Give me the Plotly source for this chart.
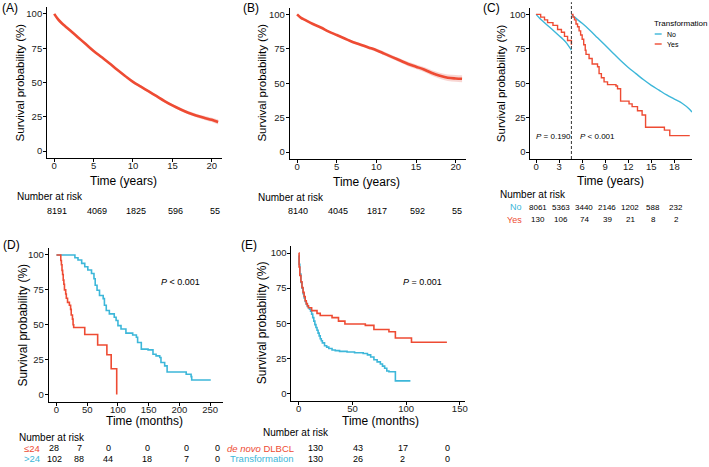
import plotly.graph_objects as go

# ---------------- DATA ----------------
# Panel A: overall survival (years, %)
A_time = [0, 0.5, 1, 1.5, 2, 3, 4, 5, 6, 7, 8, 9, 10, 11, 12, 13, 14, 15, 16, 17, 18, 19, 20, 20.8]
A_surv = [100, 96, 93, 90.5, 88, 83, 78, 73, 68.5, 64, 59.3, 54.8, 50.5, 47, 43.5, 40, 36.5, 33.3, 30.5, 28, 26, 24.3, 22.8, 21.2]
A_lo = [100, 95.5, 92.4, 89.9, 87.4, 82.3, 77.3, 72.3, 67.8, 63.2, 58.5, 54, 49.7, 46.1, 42.6, 39.1, 35.5, 32.3, 29.4, 26.8, 24.7, 22.9, 21.2, 19.4]
A_hi = [100, 96.5, 93.6, 91.1, 88.6, 83.7, 78.7, 73.7, 69.2, 64.8, 60.1, 55.6, 51.3, 47.9, 44.4, 40.9, 37.5, 34.3, 31.6, 29.2, 27.3, 25.7, 24.4, 23]
A_risk_t = [0, 5, 10, 15, 20]
A_risk_n = ["8191", "4069", "1825", "596", "55"]

# Panel B
B_time = [0, 0.5, 1, 2, 3, 4, 5, 6, 7, 8, 9, 10, 11, 12, 13, 14, 15, 16, 17, 18, 19, 20, 20.8]
B_surv = [100, 97.5, 96, 93, 90.5, 87.5, 85, 82.5, 80, 78, 76, 74, 71.5, 69, 66.5, 64, 62, 60, 57.5, 55.5, 54, 53.5, 53.3]
B_lo = [100, 97.2, 95.6, 92.5, 89.9, 86.9, 84.3, 81.7, 79.1, 77, 74.9, 72.8, 70.2, 67.6, 65, 62.4, 60.3, 58.2, 55.5, 53.3, 51.6, 51, 50.8]
B_hi = [100, 97.8, 96.4, 93.5, 91.1, 88.1, 85.7, 83.3, 80.9, 79, 77.1, 75.2, 72.8, 70.4, 68, 65.6, 63.7, 61.8, 59.5, 57.7, 56.4, 56, 55.8]
B_risk_t = [0, 5, 10, 15, 20]
B_risk_n = ["8140", "4045", "1817", "592", "55"]

# Panel C: landmark analysis at 4.6 years
C_landmark = 4.6
C_no_pre_t = [0, 0.5, 1, 1.5, 2, 2.5, 3, 3.5, 4, 4.6]
C_no_pre_s = [100, 97, 94.5, 92, 89.5, 87, 84.5, 82, 79, 74]
C_yes_pre_t = [0, 0.6, 1.1, 1.5, 2.2, 2.8, 3.3, 3.7, 4.1, 4.6]
C_yes_pre_s = [100, 98, 96, 94, 92, 89, 87, 84, 81, 78]
C_no_post_t = [4.6, 5, 6, 7, 8, 9, 10, 11, 12, 13, 14, 15, 16, 17, 18, 19, 20, 20.3]
C_no_post_s = [100, 98, 93.5, 88.5, 83, 77.5, 72, 66.5, 61.5, 57, 52.5, 48.5, 45, 41.5, 38.5, 35.5, 31, 29]
C_yes_post_t = [4.6, 4.8, 5.0, 5.2, 5.4, 5.6, 5.8, 6.0, 6.2, 6.4, 6.5, 6.9, 7.3, 8.0, 8.2, 8.5, 8.85, 9.3, 10.4, 10.6, 11.0, 12.1, 12.5, 13.2, 13.8, 14.25, 16.7, 17.4, 20.0]
C_yes_post_s = [100, 98, 96, 93, 91, 88, 85, 82, 78, 74, 71, 68, 64, 62, 57, 54, 51, 49, 48, 46, 37, 35, 33, 30, 27, 18, 16, 12, 12]
C_risk_t = [0, 3, 6, 9, 12, 15, 18]
C_risk_no = ["8061", "5363", "3440", "2146", "1202", "588", "232"]
C_risk_yes = ["130", "106", "74", "39", "21", "8", "2"]

# Panel D (months, %)
D_le24_t = [0, 5, 7, 8, 9, 10, 11, 12, 13, 15, 16, 18, 21, 23, 24, 26, 27, 28, 46, 67, 82, 89, 98]
D_le24_s = [100, 100, 96, 93, 89, 86, 82, 79, 75, 72, 69, 66, 64, 61, 57, 54, 50, 48, 43, 35.5, 28.5, 18.5, 0]
D_gt24_t = [0, 27, 30, 35, 41, 46, 51, 57, 61, 63, 66, 70, 76, 78, 81, 86, 94, 97, 100, 105, 113, 124, 130, 132, 138, 149, 157, 162, 168, 170, 176, 180, 211, 219, 220, 251]
D_gt24_s = [100, 100, 98, 96.4, 94, 91.6, 89.2, 86.7, 83, 78.3, 74.7, 71, 68.7, 64, 60.2, 57.8, 55.4, 53, 49.4, 47, 44, 42.7, 41, 37.3, 32.5, 32, 28.9, 27.7, 26.5, 22.9, 20.5, 16.1, 14.5, 12.8, 10.4, 10.4]
D_risk_le24 = ["28", "7", "0", "0", "0", "0"]
D_risk_gt24 = ["102", "88", "44", "18", "7", "0"]

# Panel E (months, %)
E_dl_t = [0, 0.3, 1, 2, 3, 4, 5, 6, 7, 8, 9, 12, 17, 20, 31, 37, 43, 62, 70, 84, 90, 105, 138]
E_dl_s = [100, 90, 84, 79.5, 75.5, 72, 69, 66, 64, 62.5, 61, 59, 57, 55.5, 54, 51.5, 49.5, 48.5, 45.5, 44, 39.5, 36.5, 36.5]
E_tr_t = [0, 0.3, 1, 2, 3, 4, 5, 6, 7, 8, 9, 10, 11, 12, 13, 14, 15, 16, 17, 18, 19, 20, 21, 22, 24, 26, 28, 31, 34, 38, 45, 52, 60, 64, 67, 70, 73, 76, 78, 80, 82, 84, 90, 104]
E_tr_s = [98, 92, 85, 79, 75, 71, 68, 65.5, 63.5, 62, 61, 60, 58.5, 56.5, 54, 51.5, 49, 47, 45, 43, 41, 39, 37.5, 36, 34, 33, 32, 31, 30.5, 30, 29.5, 29, 28.5, 27.5, 26, 24, 22.5, 21, 19.5, 18, 16, 15.5, 9, 9]
E_risk_dl = ["130", "43", "17", "0"]
E_risk_tr = ["130", "26", "2", "0"]

# ---------------- STYLE / LAYOUT ----------------
W, H = 709, 467
RED = "#EE4B33"
BLUE = "#3DB7D9"
BAND = "rgba(232,120,108,0.30)"
FONT = "Liberation Sans, Arial, sans-serif"

def pxx(x):
    return x / W

def pyy(y):
    return 1 - y / H

fig = go.Figure()

def line(x, y, ax, color, width, shape="linear"):
    fig.add_trace(go.Scatter(x=x, y=y, mode="lines", xaxis=ax[0], yaxis=ax[1],
                             line=dict(color=color, width=width, shape=shape),
                             showlegend=False, hoverinfo="skip"))

def band(x, lo, hi, ax):
    fig.add_trace(go.Scatter(x=x, y=hi, mode="lines", xaxis=ax[0], yaxis=ax[1],
                             line=dict(width=0, shape="spline"), showlegend=False, hoverinfo="skip"))
    fig.add_trace(go.Scatter(x=x, y=lo, mode="lines", xaxis=ax[0], yaxis=ax[1],
                             line=dict(width=0, shape="spline"), fill="tonexty", fillcolor=BAND,
                             showlegend=False, hoverinfo="skip"))

# A
band(A_time, A_lo, A_hi, ("x", "y"))
line(A_time, A_surv, ("x", "y"), RED, 2.6, "spline")
# B
band(B_time, B_lo, B_hi, ("x2", "y2"))
line(B_time, B_surv, ("x2", "y2"), RED, 2.6, "spline")
# C
line(C_no_pre_t, C_no_pre_s, ("x3", "y3"), BLUE, 1.4, "spline")
line(C_yes_pre_t, C_yes_pre_s, ("x3", "y3"), RED, 1.4, "hv")
line(C_no_post_t, C_no_post_s, ("x3", "y3"), BLUE, 1.4, "spline")
line(C_yes_post_t, C_yes_post_s, ("x3", "y3"), RED, 1.4, "hv")
# D
line(D_gt24_t, D_gt24_s, ("x4", "y4"), BLUE, 1.6, "hv")
line(D_le24_t, D_le24_s, ("x4", "y4"), RED, 1.6, "hv")
# E
line(E_tr_t, E_tr_s, ("x5", "y5"), BLUE, 1.6, "hv")
line(E_dl_t, E_dl_s, ("x5", "y5"), RED, 1.6, "hv")

axis_common = dict(showline=True, linecolor="black", linewidth=1, ticks="outside",
                   ticklen=3, tickcolor="black", showgrid=False, zeroline=False,
                   tickfont=dict(size=9.5, color="#222", family=FONT))
xt = dict(ticklabelstandoff=-4, **axis_common)

def xdom(a, b):
    return [pxx(a), pxx(b)]

def ydom(top, bottom):
    return [pyy(bottom), pyy(top)]

yt = dict(range=[-5, 105], tickvals=[0, 25, 50, 75, 100], ticklabelstandoff=-1, **axis_common)

fig.update_layout(
    width=W, height=H, margin=dict(l=0, r=0, t=0, b=0),
    paper_bgcolor="white", plot_bgcolor="white",
    font=dict(family=FONT, color="black"),
    xaxis=dict(domain=xdom(47.3, 223), range=[-0.9, 21.3], tickvals=[0, 5, 10, 15, 20], anchor="y", **xt),
    yaxis=dict(domain=ydom(7, 158), anchor="x", **yt),
    xaxis2=dict(domain=xdom(291, 468), range=[-0.92, 21.3], tickvals=[0, 5, 10, 15, 20], anchor="y2", **xt),
    yaxis2=dict(domain=ydom(7.5, 159), anchor="x2", **yt),
    xaxis3=dict(domain=xdom(532.7, 695), range=[-0.73, 20.3], tickvals=C_risk_t, anchor="y3", **xt),
    yaxis3=dict(domain=ydom(7.5, 159), anchor="x3", **yt),
    xaxis4=dict(domain=xdom(49, 224), range=[-12.5, 271], tickvals=[0, 50, 100, 150, 200, 250], anchor="y4", **xt),
    yaxis4=dict(domain=ydom(248, 401.5), anchor="x4", **yt),
    xaxis5=dict(domain=xdom(292.7, 466.7), range=[-6.8, 154.6], tickvals=[0, 50, 100, 150], anchor="y5", **xt),
    yaxis5=dict(domain=ydom(246, 400.5), anchor="x5", **yt),
)

# dashed landmark line
fig.add_shape(type="line", xref="x3", yref="y3 domain", x0=C_landmark, x1=C_landmark,
              y0=0, y1=1.035, line=dict(color="#333", width=1, dash="3px,2px"))

ann = []

def txt(t, x, y, size, color="black", xa="center", ya="middle", angle=0, xref="paper", xshift=0):
    ann.append(dict(text=t, x=x if xref != "paper" else pxx(x), y=pyy(y), xref=xref, yref="paper",
                    showarrow=False, xanchor=xa, yanchor=ya, textangle=angle, xshift=xshift,
                    font=dict(size=size, color=color, family=FONT)))

# panel labels
txt("(A)", 0, 7.5, 12, xa="left")
txt("(B)", 242, 7.5, 12, xa="left")
txt("(C)", 483, 7.5, 12, xa="left")
txt("(D)", 1.5, 245, 12, xa="left")
txt("(E)", 240, 245, 12, xa="left")

# axis titles
ytitle = "Survival probability (%)"
txt(ytitle, 20, 82.5, 11.5, angle=-90)
txt(ytitle, 262.7, 83, 11.5, angle=-90)
txt(ytitle, 503.3, 83, 11.5, angle=-90)
txt(ytitle, 22.7, 325, 12, angle=-90)
txt(ytitle, 263.3, 323, 12, angle=-90)
txt("Time (years)", 124, 180.5, 12)
txt("Time (years)", 368.3, 181.5, 12)
txt("Time (years)", 612.8, 180.5, 12)
txt("Time (months)", 144.7, 421, 12)
txt("Time (months)", 381.7, 420.5, 12)

# p-values
txt("<i>P</i> = 0.190", 536.5, 136.7, 8, xa="left")
txt("<i>P</i> < 0.001", 580, 136.7, 8, xa="left")
txt("<i>P</i> < 0.001", 160, 282, 9, xa="left")
txt("<i>P</i> = 0.001", 402.7, 281.7, 9, xa="left")

# legend C
txt("Transformation", 655, 24, 8, xa="left")
txt("No", 667.5, 34, 7, xa="left")
txt("Yes", 667.5, 44, 7, xa="left")
for yy, col in [(34, BLUE), (44, RED)]:
    fig.add_shape(type="line", xref="paper", yref="paper", x0=pxx(657.5), x1=pxx(664.5),
                  y0=pyy(yy), y1=pyy(yy), line=dict(color=col, width=1.4))

# risk tables
txt("Number at risk", 15, 196, 10, xa="left")
for t, n in zip(A_risk_t, A_risk_n):
    txt(n, t, 211, 9, xref="x", xshift=3)
txt("Number at risk", 257, 197, 10, xa="left")
for t, n in zip(B_risk_t, B_risk_n):
    txt(n, t, 211, 9, xref="x2", xshift=1)
txt("Number at risk", 500.5, 194.5, 10, xa="left")
txt("No", 526, 207, 9, color=BLUE, xa="right")
txt("Yes", 526.5, 219.5, 9, color=RED, xa="right")
for t, a, b in zip(C_risk_t, C_risk_no, C_risk_yes):
    txt(a, t, 207, 8, xref="x3", xshift=2)
    txt(b, t, 219.5, 8, xref="x3", xshift=2)

D_cols_px = [54.5, 79.5, 108.5, 148, 187, 218.5]
txt("Number at risk", 17, 437, 10, xa="left")
txt("≤24", 42, 448, 9.5, color=RED, xa="right")
txt(">24", 42.5, 458.5, 9.5, color=BLUE, xa="right")
for xp_, a, b in zip(D_cols_px, D_risk_le24, D_risk_gt24):
    txt(a, xp_, 448, 9)
    txt(b, xp_, 458.5, 9)

E_cols_px = [316.7, 360, 404.5, 449]
txt("Number at risk", 262, 432, 10, xa="left")
txt("<i>de novo</i> DLBCL", 297, 448, 9.5, color=RED, xa="right")
txt("Transformation", 297, 458.5, 9.5, color=BLUE, xa="right")
for xp_, a, b in zip(E_cols_px, E_risk_dl, E_risk_tr):
    txt(a, xp_, 448, 9)
    txt(b, xp_, 458.5, 9)

fig.update_layout(annotations=ann)
fig.write_html("out.html")
